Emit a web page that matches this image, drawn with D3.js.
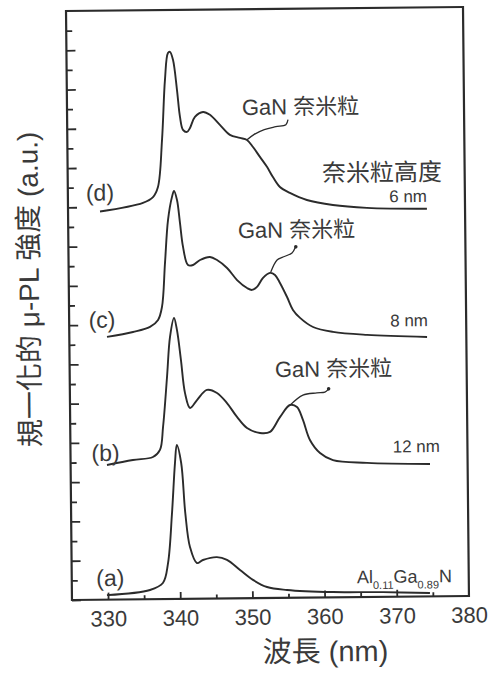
<!DOCTYPE html>
<html>
<head>
<meta charset="utf-8">
<script src="https://cdn.jsdelivr.net/npm/d3@7"></script>
<style>
  html, body { margin: 0; padding: 0; background: #fff; }
  svg text { font-family: "Liberation Sans", Arial, "Noto Sans CJK TC", sans-serif; fill: #3a3a3a; }
</style>
</head>
<body>
<div id="chart"></div>
<script>
// wavelength (nm), normalised micro-PL intensity (offset, axis units)
var spectrumA = [
  [329.85, 0.23], [335.82, 0.47], [337.62, 0.82], [338.36, 1.83], [338.98, 4.38],
  [339.46, 6.92], [339.74, 7.84], [340.32, 6.92], [340.82, 4.37], [341.42, 2.64],
  [342.36, 1.82], [343.20, 1.97], [345.14, 2.11], [346.53, 1.96], [348.32, 1.44],
  [350.10, 0.93], [352.04, 0.56], [354.80, 0.40], [361.17, 0.27], [368.10, 0.24],
  [374.60, 0.17]
];
var spectrumB = [
  [330.04, 6.86], [333.64, 7.10], [336.42, 7.24], [337.40, 7.60], [337.86, 8.77],
  [338.48, 11.31], [338.95, 13.35], [339.53, 14.31], [339.92, 13.70], [340.43, 12.17],
  [340.95, 10.48], [341.63, 9.72], [342.60, 10.12], [343.99, 10.63], [345.38, 10.47],
  [346.75, 9.95], [348.12, 9.24], [349.49, 8.67], [351.28, 8.41], [352.67, 8.46],
  [354.07, 9.21], [355.48, 9.82], [356.44, 9.71], [357.25, 9.05], [358.19, 8.03],
  [359.57, 7.36], [361.35, 6.99], [366.06, 6.83], [374.79, 6.74]
];
var spectrumC = [
  [330.22, 13.38], [333.83, 13.62], [336.19, 13.87], [337.32, 14.22], [337.88, 14.88],
  [338.36, 17.12], [338.84, 19.31], [339.42, 20.48], [339.71, 20.78], [340.11, 20.32],
  [340.49, 19.15], [340.88, 17.93], [341.54, 17.00], [342.24, 17.00], [343.22, 17.25],
  [344.60, 17.40], [345.57, 17.24], [346.95, 16.83], [348.32, 16.21], [349.69, 15.80],
  [350.38, 15.70], [351.07, 15.85], [351.92, 16.31], [352.89, 16.56], [353.58, 16.45],
  [354.26, 16.04], [355.22, 15.32], [356.02, 14.66], [356.99, 14.25], [358.78, 13.78],
  [361.53, 13.52], [366.24, 13.35], [374.56, 13.21]
];
var spectrumD = [
  [329.43, 19.77], [335.39, 20.19], [336.79, 20.48], [337.49, 20.99], [338.12, 23.39],
  [338.61, 26.44], [339.06, 27.81], [339.34, 27.87], [339.75, 27.46], [340.26, 25.93],
  [340.64, 24.55], [341.04, 23.89], [341.59, 23.78], [342.01, 23.98], [342.71, 24.54],
  [343.84, 24.79], [344.79, 24.64], [346.16, 24.12], [347.53, 23.61], [348.92, 23.45],
  [349.89, 23.34], [350.71, 22.98], [351.66, 22.47], [352.62, 21.96], [353.43, 21.44],
  [354.39, 20.93], [355.76, 20.62], [358.10, 20.25], [361.70, 19.98], [366.41, 19.82],
  [374.72, 19.74]
];

// leader lines from the "GaN 奈米粒" notes to the curves
var leaderD = [[349.9, 23.35], [350.9, 23.62], [352.3, 23.86], [353.9, 24.0], [355.3, 24.1], [355.6, 24.35]];
var leaderC = [[353.0, 16.6], [353.89, 17.21], [354.72, 17.36], [355.97, 17.56], [356.39, 17.81]];
var leaderB = [[355.6, 9.85], [357.28, 10.32], [359.22, 10.42], [360.33, 10.46], [360.74, 10.57]];
var leaderDots = [[356.5, 17.87], [360.85, 10.62]];

var wavelengthTicks = [330, 340, 350, 360, 370, 380];
var wavelengthMinor = [335, 345, 355, 365, 375];
var intensityTicks = d3.range(0, 30);

// curve tag, text, anchor position [wl, v]
var curveTags = [
  { text: '(a)', pos: [328.4, 0.70] },
  { text: '(b)', pos: [327.9, 7.07] },
  { text: '(c)', pos: [327.7, 13.85] },
  { text: '(d)', pos: [327.5, 20.33] }
];
var heightTags = [
  { text: '6 nm', pos: [374.74, 20.09] },
  { text: '8 nm', pos: [374.71, 13.77] },
  { text: '12 nm', pos: [376.19, 7.35] }
];
var ganNotes = [[349.23, 24.62], [348.51, 18.35], [353.44, 11.25]];

var width = 492, height = 674;
var plot = { left: 69, right: 466, top: 9, bottom: 598 };
var ink = '#2b2b2b';

var x = d3.scaleLinear().domain([325, 380]).range([plot.left, plot.right]);
var y = d3.scaleLinear().domain([0, 30]).range([plot.bottom, plot.top]);

var svg = d3.select('#chart').append('svg')
    .attr('width', width)
    .attr('height', height);

// the scanned figure is tilted slightly
var g = svg.append('g').attr('transform', 'rotate(-0.58, 268, 305)');

var line = d3.line()
    .x(function (d) { return x(d[0]); })
    .y(function (d) { return y(d[1]); })
    .curve(d3.curveCatmullRom.alpha(0.5));

// frame
g.append('rect')
    .attr('x', plot.left).attr('y', plot.top)
    .attr('width', plot.right - plot.left).attr('height', plot.bottom - plot.top)
    .attr('fill', 'none').attr('stroke', ink).attr('stroke-width', 2.2);

// x axis
var xAxis = g.append('g')
    .attr('transform', 'translate(0,' + plot.bottom + ')')
    .call(d3.axisBottom(x).tickValues(wavelengthTicks).tickSize(-7).tickPadding(11).tickFormat(d3.format('d')));
g.append('g')
    .attr('transform', 'translate(0,' + plot.bottom + ')')
    .call(d3.axisBottom(x).tickValues(wavelengthMinor).tickSize(-4).tickFormat(''));

// y axis, unlabeled ticks
g.append('g')
    .attr('transform', 'translate(' + plot.left + ',0)')
    .call(d3.axisLeft(y).tickValues(intensityTicks.filter(function (d) { return d % 2 === 0; })).tickSize(-9).tickFormat(''));
g.append('g')
    .attr('transform', 'translate(' + plot.left + ',0)')
    .call(d3.axisLeft(y).tickValues(intensityTicks.filter(function (d) { return d % 2 === 1; })).tickSize(-6).tickFormat(''));

g.selectAll('.domain').remove();
g.selectAll('.tick line').attr('stroke', ink).attr('stroke-width', 1.8);
xAxis.selectAll('.tick text')
    .style('font-size', '22px')
    .attr('fill', '#3a3a3a');
// 380 sits past the frame edge, keep it
xAxis.selectAll('.tick').filter(function (d) { return d === 380; }).select('line').remove();

// spectra
g.selectAll('path.spectrum')
    .data([spectrumA, spectrumB, spectrumC, spectrumD])
    .enter().append('path')
    .attr('class', 'spectrum')
    .attr('d', line)
    .attr('fill', 'none')
    .attr('stroke', ink)
    .attr('stroke-width', 1.9)
    .attr('stroke-linejoin', 'round');

// leaders
g.selectAll('path.leader')
    .data([leaderD, leaderC, leaderB])
    .enter().append('path')
    .attr('class', 'leader')
    .attr('d', line)
    .attr('fill', 'none')
    .attr('stroke', ink)
    .attr('stroke-width', 1.3);
g.selectAll('circle.dot')
    .data(leaderDots)
    .enter().append('circle')
    .attr('cx', function (d) { return x(d[0]); })
    .attr('cy', function (d) { return y(d[1]); })
    .attr('r', 1.8)
    .attr('fill', ink);

// labels
g.selectAll('text.tag')
    .data(curveTags)
    .enter().append('text')
    .attr('class', 'tag')
    .attr('x', function (d) { return x(d.pos[0]); })
    .attr('y', function (d) { return y(d.pos[1]); })
    .style('font-size', '23px')
    .text(function (d) { return d.text; });

g.selectAll('text.size')
    .data(heightTags)
    .enter().append('text')
    .attr('class', 'size')
    .attr('x', function (d) { return x(d.pos[0]); })
    .attr('y', function (d) { return y(d.pos[1]); })
    .attr('text-anchor', 'end')
    .style('font-size', '17px')
    .text(function (d) { return d.text; });

g.selectAll('text.gan')
    .data(ganNotes)
    .enter().append('text')
    .attr('class', 'gan')
    .attr('x', function (d) { return x(d[0]); })
    .attr('y', function (d) { return y(d[1]); })
    .style('font-size', '22px')
    .text('GaN 奈米粒');

g.append('text')
    .attr('x', x(360.23)).attr('y', y(21.19))
    .style('font-size', '24px')
    .text('奈米粒高度');

var alloy = g.append('text')
    .attr('x', x(364.5)).attr('y', y(0.71))
    .style('font-size', '18px');
alloy.append('tspan').text('Al');
alloy.append('tspan').attr('dy', 6).style('font-size', '11px').text('0.11');
alloy.append('tspan').attr('dy', -6).text('Ga');
alloy.append('tspan').attr('dy', 6).style('font-size', '11px').text('0.89');
alloy.append('tspan').attr('dy', -6).text('N');

// axis titles
g.append('text')
    .attr('x', 322).attr('y', 662)
    .attr('text-anchor', 'middle')
    .style('font-size', '29px')
    .text('波長 (nm)');

g.append('text')
    .attr('transform', 'translate(39,287) rotate(-90)')
    .attr('text-anchor', 'middle')
    .style('font-size', '28px')
    .text('規一化的 μ-PL 強度 (a.u.)');
</script>
</body>
</html>
